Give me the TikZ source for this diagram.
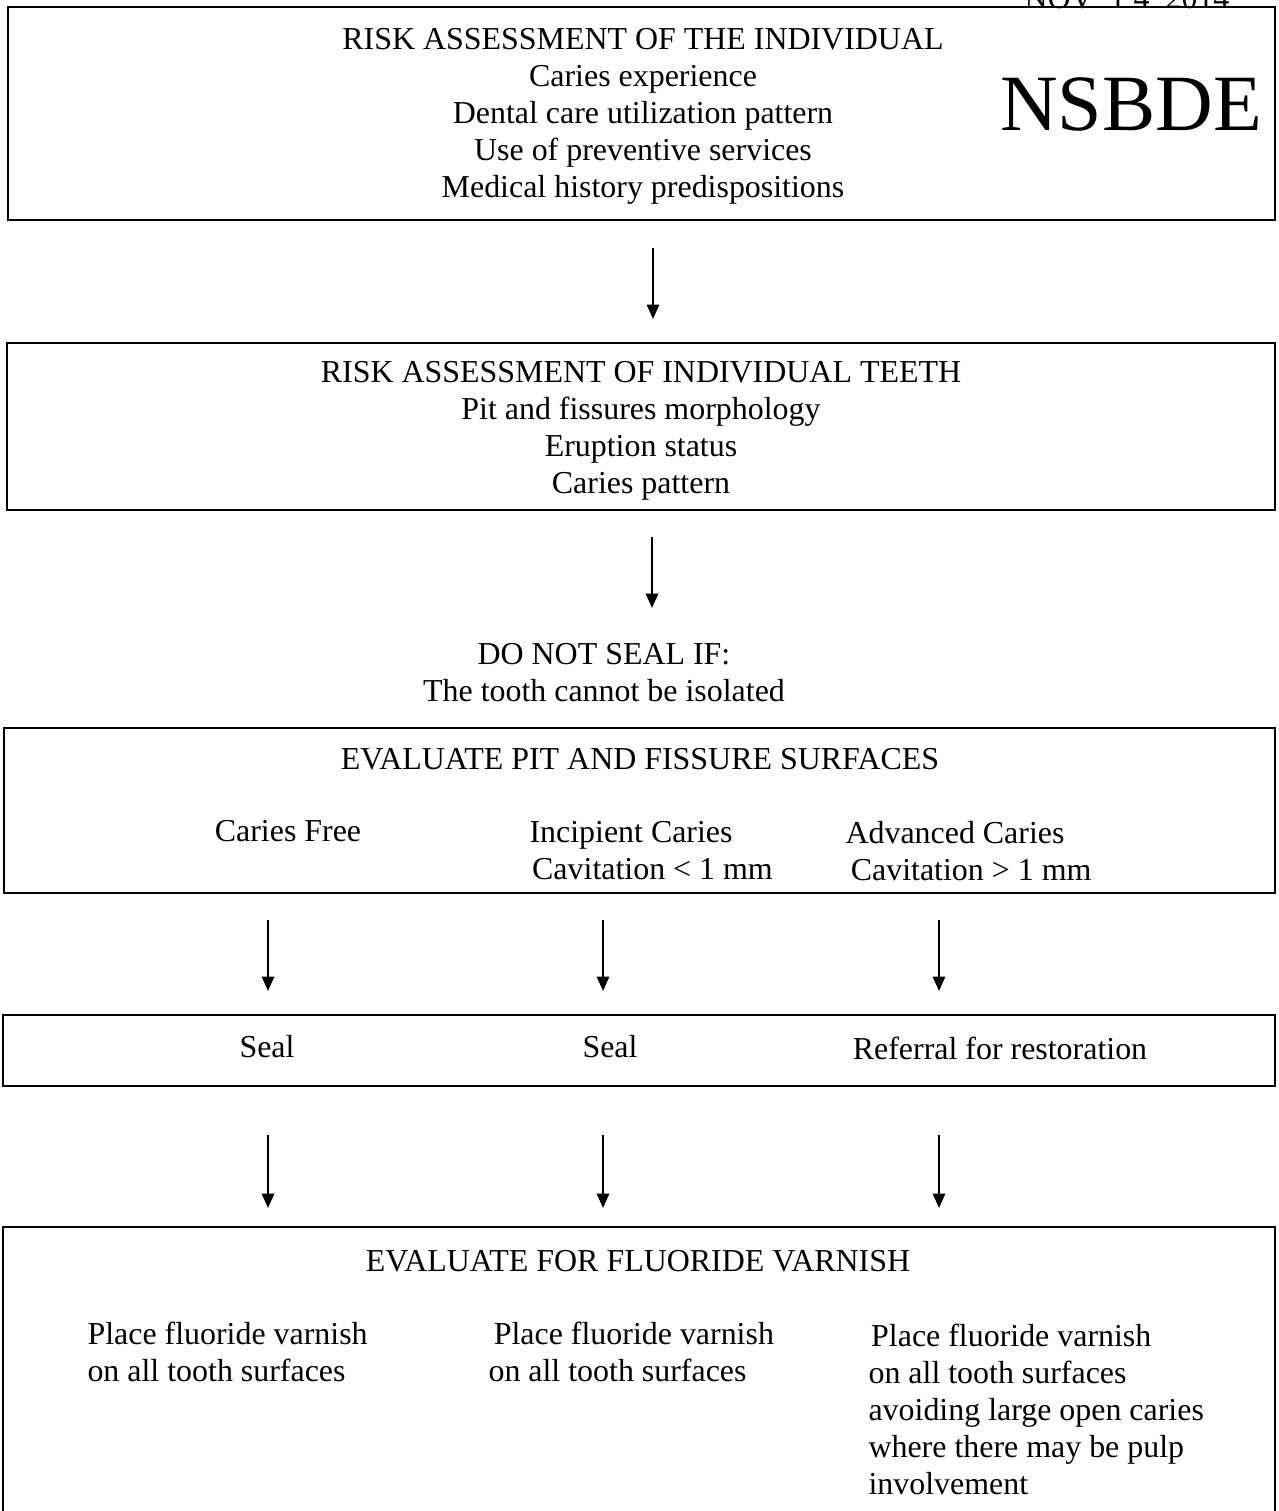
\documentclass[tikz,border=0pt]{standalone}
\usepackage{fontspec}
\setmainfont{Liberation Serif}
\usetikzlibrary{arrows.meta, positioning}

\def\upx{0.3759pt}

\begin{document}
\begin{tikzpicture}[x=0.3759pt, y=-0.3759pt, >={Triangle[length=5.4pt,width=4.6pt]},
		box/.style={draw, line width=1.1pt, rectangle, inner sep=0pt},
		txt/.style={font=\fontsize{12}{13.9}\selectfont, align=center, inner sep=0pt},
		col/.style={txt, align=left, anchor=west},
		arr/.style={->, line width=0.8pt}]
		
		\useasboundingbox (0,0) rectangle (1278,1511);
		
		\node (stamp) [txt, anchor=base] at (1127,9) {NOV\ \ 1 4\ \ 2014};
		
		\node (b1) [box, minimum width=1267*\upx, minimum height=213*\upx] at (641.5,113.5) {};
		\node (t1) [txt] at (643,116.5)
		{RISK ASSESSMENT OF THE INDIVIDUAL\\Caries experience\\Dental care utilization pattern\\Use of preventive services\\Medical history predispositions};
		\node (logo) [inner sep=0pt, font=\fontsize{30}{30}\selectfont] at (1131,104) {NSBDE};
		
		\node (b2) [box, minimum width=1268*\upx, minimum height=167*\upx] at (641,426.5) {};
		\node (t2) [txt] at (641,431)
		{RISK ASSESSMENT OF INDIVIDUAL TEETH\\Pit and fissures morphology\\Eruption status\\Caries pattern};
		
		\node (noseal) [txt] at (604,673) {DO NOT SEAL IF:\\The tooth cannot be isolated};
		
		\node (b3) [box, minimum width=1271*\upx, minimum height=165*\upx] at (639.5,810.5) {};
		\node (evalpit) [txt] at (640,759) {EVALUATE PIT AND FISSURE SURFACES};
		\node (cfree) [txt] at (288,831) {Caries Free};
		\node (incip) [col] at (529,850.5) {Incipient Caries\\\hspace{1pt}Cavitation < 1 mm};
		\node (adv) [col] at (845,851.5) {Advanced Caries\\\hspace{2pt}Cavitation > 1 mm};
		
		\node (b4) [box, minimum width=1272*\upx, minimum height=71*\upx] at (639,1050.5) {};
		\node (seal1) [txt] at (267,1047) {Seal};
		\node (seal2) [txt] at (610,1047) {Seal};
		\node (refer) [txt] at (1000,1048) {Referral for restoration};
		
		\node (b5) [box, minimum width=1272*\upx, minimum height=333*\upx] at (639,1393.5) {};
		\node (evalfl) [txt] at (638,1261) {EVALUATE FOR FLUORIDE VARNISH};
		\node (pf1) [col] at (87,1351.5) {Place fluoride varnish\\on all tooth surfaces};
		\node (pf2) [col] at (488,1352) {\hspace{2pt}Place fluoride varnish\\on all tooth surfaces};
		\node (pf3) [col] at (868,1409) {\hspace{1pt}Place fluoride varnish\\on all tooth surfaces\\avoiding large open caries\\where there may be pulp\\involvement};
		
		% arrows between the boxes
		\coordinate (a1s) at (653,248);  \coordinate (a1e) at (653,319);
		\coordinate (a2s) at (652,537);  \coordinate (a2e) at (652,608);
		\draw [arr] (a1s) -- (a1e);
		\draw [arr] (a2s) -- (a2e);
		\foreach \x [count=\i] in {268,603,939} {
			\coordinate (c\i s) at (\x,920);  \coordinate (c\i e) at (\x,991);
			\coordinate (d\i s) at (\x,1135); \coordinate (d\i e) at (\x,1208);
			\draw [arr] (c\i s) -- (c\i e);
			\draw [arr] (d\i s) -- (d\i e);
		}
	\end{tikzpicture}
\end{document}
